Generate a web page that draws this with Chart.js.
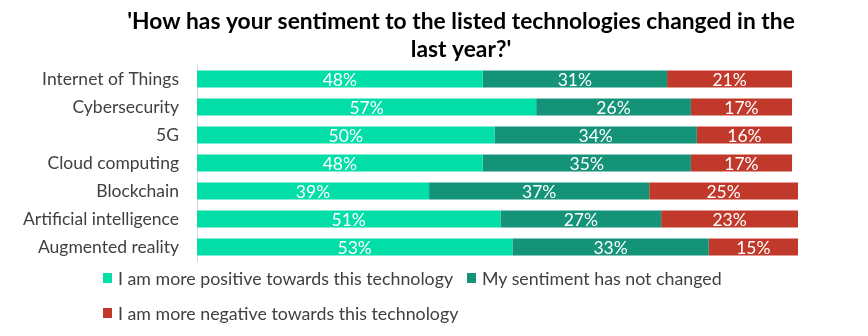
<!DOCTYPE html>
<html>
<head>
<meta charset="utf-8">
<script src="https://cdn.jsdelivr.net/npm/chart.js@4/dist/chart.umd.min.js"></script>
<style>
  html, body { margin: 0; padding: 0; background: #fff; }
  #wrap { position: relative; width: 868px; height: 336px; }
  #chart { position: absolute; left: 0; top: 0; }
  #legend { position: absolute; left: 103px; top: 265px; width: 740px;
            font-family: Lato, "Open Sans", sans-serif; font-size: 17.8px; color: #404040; }
  .row { display: flex; align-items: center; height: 26px; }
  .row + .row { margin-top: 9px; }
  .item { display: flex; align-items: center; margin-right: 14px; white-space: nowrap; }
  .sw { width: 9px; height: 10px; margin-right: 6px; }
</style>
</head>
<body>
<div id="wrap">
  <canvas id="chart" width="868" height="336"></canvas>
  <div id="legend"></div>
</div>
<script>
// Survey categories, top to bottom
const categories = [
  "Internet of Things",
  "Cybersecurity",
  "5G",
  "Cloud computing",
  "Blockchain",
  "Artificial intelligence",
  "Augmented reality"
];

// Share of respondents (%) per answer
const morePositive = [48, 57, 50, 48, 39, 51, 53];
const unchanged    = [31, 26, 34, 35, 37, 27, 33];
const moreNegative = [21, 17, 16, 17, 25, 23, 15];

const seriesNames = [
  "I am more positive towards this technology",
  "My sentiment has not changed",
  "I am more negative towards this technology"
];

const titleLines = [
  "'How has your sentiment to the listed technologies changed in the",
  "last year?'"
];

const colors = ["#02DEA8", "#149379", "#C0392B"];
const FONT = "Lato, 'Open Sans', sans-serif";

// Two-line heading, centred over the bars and labels together
const heading = {
  id: "heading",
  afterDraw(chart) {
    const ctx = chart.ctx;
    ctx.save();
    ctx.font = "bold 22.8px " + FONT;
    ctx.fillStyle = "#000";
    ctx.textAlign = "center";
    ctx.textBaseline = "middle";
    const cx = 461;
    titleLines.forEach((line, i) => ctx.fillText(line, cx, 22 + i * 27.5));
    ctx.restore();
  }
};

// Writes the percentage in the middle of every bar segment
const segmentLabels = {
  id: "segmentLabels",
  afterDatasetsDraw(chart) {
    const ctx = chart.ctx;
    ctx.save();
    ctx.font = "17.5px " + FONT;
    ctx.fillStyle = "#ffffff";
    ctx.textAlign = "center";
    ctx.textBaseline = "middle";
    chart.data.datasets.forEach((ds, di) => {
      chart.getDatasetMeta(di).data.forEach((bar, i) => {
        const cx = (bar.x + bar.base) / 2;
        ctx.fillText(ds.data[i] + "%", cx, bar.y + 1);
      });
    });
    ctx.restore();
  }
};

const datasets = [morePositive, unchanged, moreNegative].map((vals, k) => ({
  label: seriesNames[k],
  data: vals,
  backgroundColor: colors[k],
  borderWidth: 0,
  categoryPercentage: 1,
  barPercentage: 0.61
}));

const chart = new Chart(document.getElementById("chart"), {
  type: "bar",
  data: { labels: categories, datasets },
  options: {
    indexAxis: "y",
    responsive: false,
    animation: false,
    layout: { padding: { left: 0, right: 70, top: 65, bottom: 75 } },
    plugins: {
      legend: { display: false },
      tooltip: { enabled: false },
      title: { display: false }
    },
    scales: {
      x: {
        stacked: true,
        min: 0,
        max: 101,
        display: false
      },
      y: {
        stacked: true,
        grid: { display: false },
        border: { display: true, color: "#d9d9d9", width: 1 },
        ticks: {
          color: "#404040",
          font: { family: FONT, size: 17.5 },
          padding: 10
        },
        afterFit(scale) { scale.width = 197; }
      }
    }
  },
  plugins: [segmentLabels, heading]
});

// Legend: first two entries on one line, the third below
const legend = document.getElementById("legend");
[[0, 1], [2]].forEach(group => {
  const row = document.createElement("div");
  row.className = "row";
  group.forEach(k => {
    const item = document.createElement("div");
    item.className = "item";
    const sw = document.createElement("span");
    sw.className = "sw";
    sw.style.background = colors[k];
    const tx = document.createElement("span");
    tx.textContent = seriesNames[k];
    item.appendChild(sw);
    item.appendChild(tx);
    row.appendChild(item);
  });
  legend.appendChild(row);
});
</script>
</body>
</html>
